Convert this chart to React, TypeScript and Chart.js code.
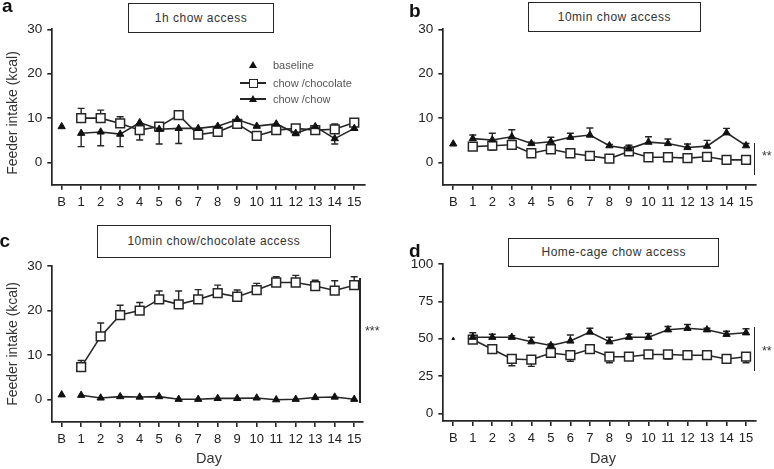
import React, { useEffect, useRef } from 'react';
import { Chart, registerables } from 'chart.js';

Chart.register(...registerables);

// ---------- data ----------
const DAY_LABELS = ['B', '1', '2', '3', '4', '5', '6', '7', '8', '9', '10', '11', '12', '13', '14', '15'];
const DAY_TICKS = [0, 1, 2, 3, 4, 5, 6, 7, 8, 9, 10, 11, 12, 13, 14, 15];
const DAYS = [1, 2, 3, 4, 5, 6, 7, 8, 9, 10, 11, 12, 13, 14, 15];
const Y_TICKS_KCAL = [0, 10, 20, 30];
const Y_TICKS_HOME = [0, 25, 50, 75, 100];

// a: 1h chow access
const A_BASELINE = [8.1];
const A_CHOC = [10.0, 10.0, 8.8, 7.3, 8.1, 10.7, 6.3, 6.9, 8.7, 6.0, 7.3, 7.7, 7.3, 7.5, 9.0];
const A_CHOC_ERR = [2.2, 1.8, 1.5, 0.6, 0.4, 0.4, 0.3, 0.3, 0.3, 0.5, 0.3, 0.5, 0.3, 1.2, 0.5];
const A_CHOW = [6.6, 6.9, 6.4, 9.0, 7.5, 7.7, 7.7, 8.2, 9.7, 8.2, 8.7, 6.6, 8.1, 5.4, 7.7];
const A_CHOW_ERR = [3.0, 3.1, 2.8, 3.9, 3.3, 3.4, 0.3, 0.3, 0.3, 0.3, 0.3, 0.5, 0.3, 1.2, 0.3];

// b: 10min chow access
const B_BASELINE = [4.2];
const B_CHOW = [5.4, 5.1, 5.8, 4.3, 4.7, 5.7, 6.2, 3.8, 3.1, 4.6, 4.3, 3.4, 3.7, 6.7, 3.8];
const B_CHOW_ERR = [0.8, 1.5, 1.6, 0.3, 1.0, 0.9, 1.6, 0.3, 0.8, 1.2, 1.0, 0.8, 1.3, 1.0, 0.5];
const B_CHOC = [3.6, 3.8, 4.0, 2.1, 3.0, 2.1, 1.5, 0.9, 2.5, 1.2, 1.2, 1.0, 1.3, 0.6, 0.6];
const B_CHOC_ERR = [0.5, 1.0, 0.7, 0.3, 0.3, 0.3, 0.3, 0.3, 0.6, 0.3, 0.3, 0.3, 0.3, 0.3, 0.3];

// c: 10min chow/chocolate access
const C_BASELINE = [1.1];
const C_CHOC = [7.3, 14.2, 19.0, 20.0, 22.5, 21.4, 22.5, 23.9, 23.1, 24.6, 26.3, 26.3, 25.5, 24.5, 25.7];
const C_CHOC_ERR = [1.5, 3.0, 2.2, 1.8, 1.9, 3.0, 2.2, 1.8, 1.5, 1.5, 1.3, 1.6, 1.3, 2.2, 1.9];
const C_CHOW = [1.0, 0.4, 0.7, 0.6, 0.7, 0.1, 0.1, 0.3, 0.3, 0.4, 0.0, 0.1, 0.5, 0.6, 0.1];
const C_CHOW_ERR = [0.2, 0.2, 0.2, 0.2, 0.2, 0.2, 0.2, 0.2, 0.2, 0.2, 0.2, 0.2, 0.2, 0.2, 0.2];

// d: Home-cage chow access
const D_BASELINE = [50];
const D_CHOW = [51, 51, 51, 48, 45.5, 48.5, 54.5, 48, 51, 51, 56, 57, 56, 53, 54];
const D_CHOW_ERR = [3, 2, 1, 3, 1, 4, 2.5, 3, 2, 2.5, 2.2, 2.5, 1, 2, 2.7];
const D_CHOC = [49.5, 43, 36.5, 36, 40.5, 39, 43, 38, 38, 39.5, 39.5, 39, 39, 36.5, 38];
const D_CHOC_ERR = [2, 1, 4.5, 4.5, 2, 4, 1.5, 4, 2, 1, 3, 2, 1, 1, 4];

// ---------- layout ----------
const W = 774;
const H = 469;
const FONT = '"Liberation Sans", Arial, Helvetica, sans-serif';
const INK = '#262626';

type PanelSpec = {
  left: number; right: number; top: number; bottom: number;
  xMin: number; xMax: number; yMin: number; yMax: number; yTicks: number[];
  base: number[]; baseRadius: number;
  choc: number[]; chocErr: number[]; chocDir: number;
  chow: number[]; chowErr: number[]; chowDir: number;
};

const PANELS: PanelSpec[] = [
  { left: 52.3, right: 365, top: 29.3, bottom: 184.8, xMin: -0.48, xMax: 15.55, yMin: -5, yMax: 30, yTicks: Y_TICKS_KCAL,
    base: A_BASELINE, baseRadius: 4.2, choc: A_CHOC, chocErr: A_CHOC_ERR, chocDir: 1, chow: A_CHOW, chowErr: A_CHOW_ERR, chowDir: -1 },
  { left: 443.3, right: 756, top: 29.3, bottom: 184.8, xMin: -0.51, xMax: 15.51, yMin: -5, yMax: 30, yTicks: Y_TICKS_KCAL,
    base: B_BASELINE, baseRadius: 4.2, choc: B_CHOC, chocErr: B_CHOC_ERR, chocDir: -1, chow: B_CHOW, chowErr: B_CHOW_ERR, chowDir: 1 },
  { left: 52.3, right: 363, top: 266, bottom: 422, xMin: -0.48, xMax: 15.45, yMin: -5, yMax: 30, yTicks: Y_TICKS_KCAL,
    base: C_BASELINE, baseRadius: 4.2, choc: C_CHOC, chocErr: C_CHOC_ERR, chocDir: 1, chow: C_CHOW, chowErr: C_CHOW_ERR, chowDir: 0 },
  { left: 443.3, right: 756, top: 264, bottom: 421, xMin: -0.51, xMax: 15.51, yMin: -5, yMax: 100, yTicks: Y_TICKS_HOME,
    base: D_BASELINE, baseRadius: 1.6, choc: D_CHOC, chocErr: D_CHOC_ERR, chocDir: -1, chow: D_CHOW, chowErr: D_CHOW_ERR, chowDir: 1 },
];

const Y_AXIS_W = 40;
const X_AXIS_H = 30;

const errorBarPlugin = {
  id: 'errorBars',
  beforeDatasetsDraw(chart: any) {
    const ctx = chart.ctx;
    const ys = chart.scales.y;
    chart.data.datasets.forEach((ds: any, i: number) => {
      const errs: number[] | undefined = ds.errors;
      if (!errs || !ds.errDir) return;
      const meta = chart.getDatasetMeta(i);
      ctx.save();
      ctx.strokeStyle = INK;
      ctx.lineWidth = 1.4;
      meta.data.forEach((pt: any, j: number) => {
        const e = errs[j];
        if (!e) return;
        const v = ds.data[j].y;
        const end = ys.getPixelForValue(v + ds.errDir * e);
        ctx.beginPath();
        ctx.moveTo(pt.x, pt.y);
        ctx.lineTo(pt.x, end);
        ctx.moveTo(pt.x - 3.5, end);
        ctx.lineTo(pt.x + 3.5, end);
        ctx.stroke();
      });
      ctx.restore();
    });
  },
};

function makeConfig(p: PanelSpec): any {
  const toPts = (arr: number[]) => arr.map((v, i) => ({ x: DAYS[i], y: v }));
  return {
    type: 'line',
    data: {
      datasets: [
        {
          label: 'chow /chow',
          data: toPts(p.chow),
          errors: p.chowErr,
          errDir: p.chowDir,
          borderColor: INK,
          borderWidth: 1.6,
          pointStyle: 'triangle',
          pointRadius: 4.2,
          pointBackgroundColor: '#111',
          pointBorderColor: '#111',
          pointBorderWidth: 1,
        },
        {
          label: 'chow /chocolate',
          data: toPts(p.choc),
          errors: p.chocErr,
          errDir: p.chocDir,
          borderColor: INK,
          borderWidth: 1.6,
          pointStyle: 'rect',
          pointRadius: 6.2,
          pointBackgroundColor: '#ffffff',
          pointBorderColor: INK,
          pointBorderWidth: 1.5,
        },
        {
          label: 'baseline',
          data: p.base.map((v) => ({ x: 0, y: v })),
          showLine: false,
          pointStyle: 'triangle',
          pointRadius: p.baseRadius,
          pointBackgroundColor: '#111',
          pointBorderColor: '#111',
          pointBorderWidth: 1,
        },
      ],
    },
    options: {
      responsive: false,
      animation: false,
      devicePixelRatio: 1,
      layout: {
        padding: {
          left: p.left - Y_AXIS_W,
          right: W - p.right,
          top: p.top,
          bottom: H - p.bottom - X_AXIS_H,
        },
      },
      plugins: { legend: { display: false }, tooltip: { enabled: false }, title: { display: false } },
      scales: {
        x: {
          type: 'linear',
          min: p.xMin,
          max: p.xMax,
          afterBuildTicks: (s: any) => { s.ticks = DAY_TICKS.map((v) => ({ value: v })); },
          afterFit: (s: any) => { s.height = X_AXIS_H; },
          grid: { drawOnChartArea: false, drawTicks: true, tickLength: 5, color: INK, lineWidth: 1.6 },
          border: { display: true, color: INK, width: 1.7 },
          ticks: {
            autoSkip: false,
            maxRotation: 0,
            padding: 5,
            color: '#222',
            font: { family: FONT, size: 13 },
            callback: (v: number) => DAY_LABELS[Math.round(v)] ?? '',
          },
        },
        y: {
          type: 'linear',
          min: p.yMin,
          max: p.yMax,
          afterBuildTicks: (s: any) => { s.ticks = p.yTicks.map((v) => ({ value: v })); },
          afterFit: (s: any) => { s.width = Y_AXIS_W; },
          grid: { drawOnChartArea: false, drawTicks: true, tickLength: 5, color: INK, lineWidth: 1.6 },
          border: { display: true, color: INK, width: 1.7 },
          ticks: {
            padding: 5,
            color: '#222',
            font: { family: FONT, size: 13.5 },
          },
        },
      },
    },
    plugins: [errorBarPlugin],
  };
}

const abs = (style: React.CSSProperties): React.CSSProperties => ({ position: 'absolute', ...style });

function TitleBox(props: { x: number; y: number; w: number; h: number; text: string }) {
  return (
    <div
      style={abs({
        left: props.x, top: props.y, width: props.w, height: props.h,
        border: `1.5px solid ${INK}`, boxSizing: 'border-box', background: '#fff',
        display: 'flex', alignItems: 'center', justifyContent: 'center',
        fontFamily: FONT, fontSize: 12, letterSpacing: '0.5px', color: '#333', whiteSpace: 'nowrap',
      })}
    >
      {props.text}
    </div>
  );
}

function Letter(props: { x: number; y: number; text: string }) {
  return (
    <div style={abs({ left: props.x, top: props.y, fontFamily: FONT, fontWeight: 'bold', fontSize: 19, lineHeight: '19px', color: '#111' })}>
      {props.text}
    </div>
  );
}

function YLabel(props: { cx: number; cy: number }) {
  return (
    <div
      style={abs({
        left: props.cx, top: props.cy, transform: 'translate(-50%, -50%) rotate(-90deg)',
        fontFamily: FONT, fontSize: 14, color: '#333', whiteSpace: 'nowrap', lineHeight: '14px',
      })}
    >
      Feeder intake (kcal)
    </div>
  );
}

function XLabel(props: { cx: number; cy: number }) {
  return (
    <div style={abs({ left: props.cx, top: props.cy, transform: 'translate(-50%, -50%)', fontFamily: FONT, fontSize: 14.5, color: '#333', lineHeight: '15px' })}>
      Day
    </div>
  );
}

function Sig(props: { x: number; y1: number; y2: number; tx: number; ty: number; text: string }) {
  return (
    <>
      <div style={abs({ left: props.x - 0.75, top: props.y1, width: 1.5, height: props.y2 - props.y1, background: INK })} />
      <div style={abs({ left: props.tx, top: props.ty, fontFamily: FONT, fontSize: 12.5, lineHeight: '12px', color: '#333' })}>
        {props.text}
      </div>
    </>
  );
}

function Legend() {
  const rowY = [65, 83, 99];
  const tri = (cx: number, cy: number) => (
    <div
      style={abs({
        left: cx - 4, top: cy - 4, width: 0, height: 0,
        borderLeft: '4px solid transparent', borderRight: '4px solid transparent', borderBottom: '7px solid #111',
      })}
    />
  );
  const text = (y: number, t: string) => (
    <div style={abs({ left: 273, top: y - 7, fontFamily: FONT, fontSize: 11, lineHeight: '14px', color: '#555', whiteSpace: 'nowrap' })}>{t}</div>
  );
  return (
    <>
      {tri(253, rowY[0])}
      {text(rowY[0], 'baseline')}
      <div style={abs({ left: 240, top: rowY[1] - 0.75, width: 26, height: 1.5, background: INK })} />
      <div style={abs({ left: 248.5, top: rowY[1] - 4.5, width: 9, height: 9, border: `1.4px solid ${INK}`, boxSizing: 'border-box', background: '#fff' })} />
      {text(rowY[1], 'chow /chocolate')}
      <div style={abs({ left: 240, top: rowY[2] - 0.75, width: 26, height: 1.5, background: INK })} />
      {tri(253, rowY[2])}
      {text(rowY[2], 'chow /chow')}
    </>
  );
}

export default function App() {
  const refs = [useRef<HTMLCanvasElement>(null), useRef<HTMLCanvasElement>(null), useRef<HTMLCanvasElement>(null), useRef<HTMLCanvasElement>(null)];

  useEffect(() => {
    const charts = PANELS.map((p, i) => new Chart(refs[i].current as HTMLCanvasElement, makeConfig(p)));
    return () => charts.forEach((c) => c.destroy());
  }, []);

  return (
    <div style={{ position: 'fixed', left: 0, top: 0, width: W, height: H, background: '#fff', overflow: 'hidden' }}>
      {refs.map((r, i) => (
        <canvas key={i} ref={r} width={W} height={H} style={abs({ left: 0, top: 0, width: W, height: H })} />
      ))}
      <Letter x={2} y={-4.4} text="a" />
      <Letter x={409} y={0.6} text="b" />
      <Letter x={-0.5} y={230.6} text="c" />
      <Letter x={409} y={240.6} text="d" />

      <TitleBox x={127.7} y={2.7} w={146.6} h={30.6} text="1h chow access" />
      <TitleBox x={527.7} y={1.7} w={173.3} h={30.6} text="10min chow access" />
      <TitleBox x={96.7} y={225} w={234.3} h={32.7} text="10min chow/chocolate access" />
      <TitleBox x={508.3} y={237.7} w={211} h={29.6} text="Home-cage chow access" />

      <YLabel cx={11.7} cy={113} />
      <YLabel cx={11.7} cy={344} />
      <XLabel cx={209} cy={458} />
      <XLabel cx={603} cy={458} />

      <Legend />

      <Sig x={754.3} y1={142.7} y2={175} tx={762} ty={150} text="**" />
      <Sig x={360} y1={278.3} y2={403.3} tx={365} ty={325.3} text="***" />
      <Sig x={754.3} y1={326.7} y2={370.7} tx={762} ty={345} text="**" />
    </div>
  );
}
